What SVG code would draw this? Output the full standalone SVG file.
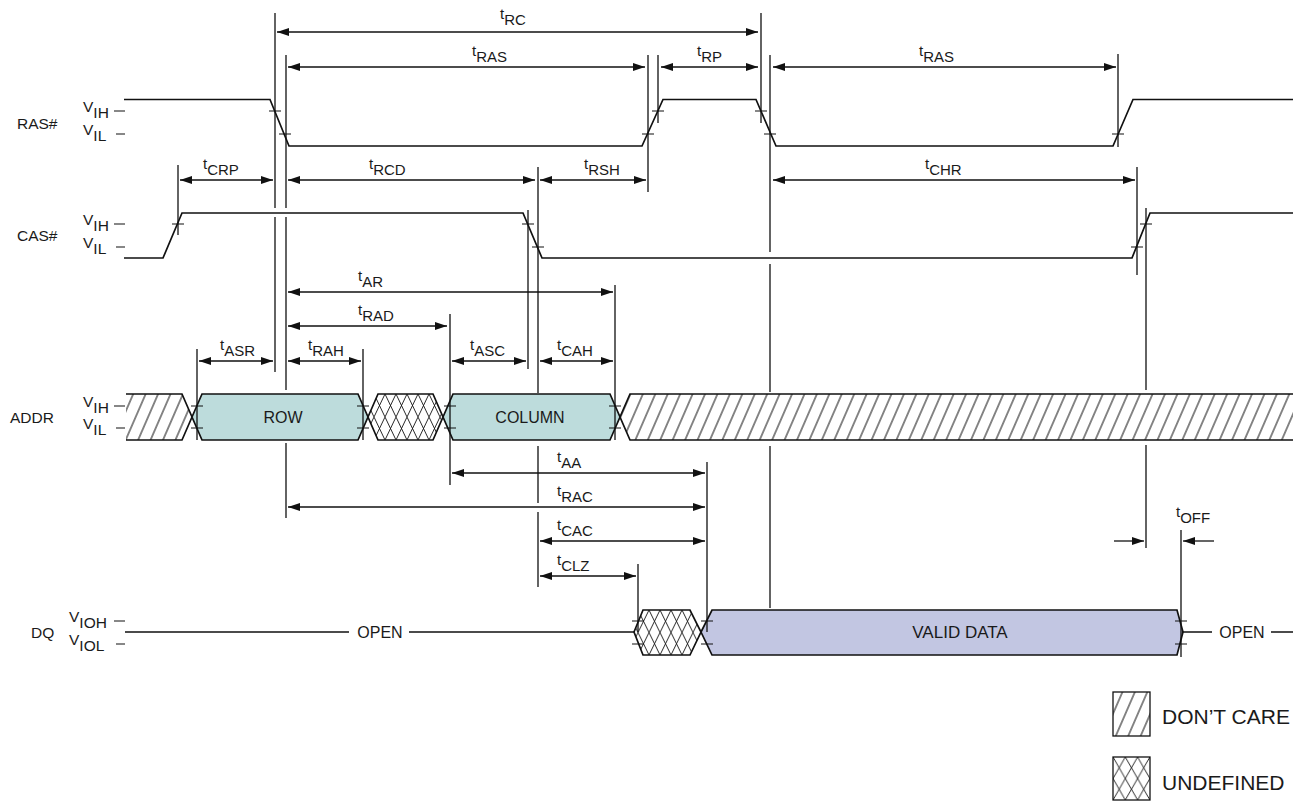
<svg xmlns="http://www.w3.org/2000/svg" width="1299" height="801" viewBox="0 0 1299 801">
<defs>
<style>
text { font-family: "Liberation Sans", Arial, sans-serif; fill: #1a1a1a; }
.sig { fill: none; stroke: #111; stroke-width: 1.7; stroke-linejoin: miter; }
.ref { stroke: #111; stroke-width: 1.3; fill: none; }
.tk { stroke: #111; stroke-width: 1.2; }
.dim { stroke: #111; stroke-width: 1.3; marker-start: url(#ah); marker-end: url(#ah); }
.one { stroke: #111; stroke-width: 1.3; marker-end: url(#ah); }
.lbl { font-size: 15px; }
.nm { font-size: 15.5px; }
.bx { font-size: 16px; text-anchor: middle; }
.lg { font-size: 21px; }
</style>
<marker id="ah" viewBox="0 0 12 8" refX="12" refY="4" markerWidth="12" markerHeight="8" markerUnits="userSpaceOnUse" orient="auto-start-reverse">
<path d="M0,0 L12,4 L0,8 z" fill="#111"/>
</marker>
<pattern id="dc" patternUnits="userSpaceOnUse" width="11.4" height="20" patternTransform="rotate(23.5)">
<line x1="5.7" y1="-2" x2="5.7" y2="22" stroke="#111" stroke-width="1"/>
</pattern>
<pattern id="ud" patternUnits="userSpaceOnUse" x="0" y="394" width="11" height="23">
<path d="M0,0 L11,23 M11,0 L0,23" stroke="#111" stroke-width="0.9" fill="none"/>
</pattern>
<pattern id="ud2" patternUnits="userSpaceOnUse" x="0" y="610" width="11" height="22.5">
<path d="M0,0 L11,22.5 M11,0 L0,22.5" stroke="#111" stroke-width="0.9" fill="none"/>
</pattern>
<pattern id="ud3" patternUnits="userSpaceOnUse" x="1113" y="757" width="12.3" height="21.5">
<path d="M0,0 L12.3,21.5 M12.3,0 L0,21.5" stroke="#111" stroke-width="0.9" fill="none"/>
</pattern>
</defs>

<g id="signal-names">
<text class="nm" x="17" y="129">RAS#</text>
<text class="nm" x="17" y="241">CAS#</text>
<text class="nm" x="10" y="423">ADDR</text>
<text class="nm" x="31" y="638">DQ</text>
</g>

<g id="levels">
<text class="nm" x="83" y="112">V<tspan dy="6">IH</tspan></text>
<text class="nm" x="83" y="135">V<tspan dy="6">IL</tspan></text>
<text class="nm" x="83" y="225">V<tspan dy="6">IH</tspan></text>
<text class="nm" x="83" y="248">V<tspan dy="6">IL</tspan></text>
<text class="nm" x="83" y="407">V<tspan dy="6">IH</tspan></text>
<text class="nm" x="83" y="429">V<tspan dy="6">IL</tspan></text>
<text class="nm" x="69" y="622">V<tspan dy="6">IOH</tspan></text>
<text class="nm" x="69" y="645">V<tspan dy="6">IOL</tspan></text>
<path class="tk" d="M114,111 H125 M116,134 H125 M114,224 H125 M116,247 H125 M114,406 H125 M116,428 H125 M114,621 H125 M116,644 H125"/>
</g>

<g id="addr-bus">
<path d="M126,394 H182 L192,417 L182,440 H126 Z" fill="url(#dc)"/>
<path class="sig" d="M126,394 H182 L192,417 L182,440 H126"/>
<path class="sig" d="M192,417 L202,394 H358 L368,417 L358,440 H202 Z" style="fill:#bddcdc"/>
<path d="M368,417 L378,394 H433 L443,417 L433,440 H378 Z" fill="url(#ud)" stroke="#111" stroke-width="1.7"/>
<path class="sig" d="M443,417 L453,394 H610 L620,417 L610,440 H453 Z" style="fill:#bddcdc"/>
<path d="M620,417 L630,394 H1293 V440 H630 Z" fill="url(#dc)"/>
<path class="sig" d="M1293,394 H630 L620,417 L630,440 H1293"/>
<text class="bx" x="283" y="423">ROW</text>
<text class="bx" x="530" y="423">COLUMN</text>
</g>

<g id="dq-bus">
<path class="sig" d="M125,632 H349 M409,632 H634"/>
<text class="bx" x="380" y="638">OPEN</text>
<path d="M634,632 L643,610 H690 L701,632 L690,655 H643 Z" fill="url(#ud2)" stroke="#111" stroke-width="1.7"/>
<path class="sig" d="M701,632 L712,610 H1177 L1183,632 L1177,655 H712 Z" style="fill:#c2c6e2"/>
<text class="bx" x="960" y="638" style="font-size:17px">VALID DATA</text>
<path class="sig" d="M1183,632 H1212 M1271,632 H1293"/>
<text class="bx" x="1242" y="638">OPEN</text>
</g>

<g id="ras">
<path class="sig" d="M124,99.5 H270 L289,146 H642 L663,99.5 H756 L776,146 H1113 L1133,99.5 H1293"/>
<path class="tk" d="M269,111 H281 M279,134 H291 M642,134 H654 M652,111 H664 M755,111 H767 M764,134 H776 M1112,134 H1124"/>
</g>

<g id="cas">
<path class="sig" d="M124,258 H163 L182,213 H523 L542,258 H1132 L1150,213 H1293"/>
<path class="tk" d="M172,224 H184 M522,224 H534 M532,247 H544 M1131,247 H1143 M1140,224 H1152"/>
</g>

<g id="bus-ticks">
<path class="tk" d="M191,406 H203 M191,428 H203 M357,406 H369 M357,428 H369 M444,406 H456 M444,428 H456 M609,406 H621 M609,428 H621"/>
<path class="tk" d="M632,621 H644 M632,644 H644 M701,621 H713 M701,644 H713 M1175,621 H1187 M1175,644 H1187"/>
</g>

<g id="reference-lines">
<path class="ref" d="M275,13 V208 M275,217 V372"/>
<path class="ref" d="M286,55 V208 M286,217 V390 M286,443 V518"/>
<path class="ref" d="M178,165 V235"/>
<path class="ref" d="M197,349 V440 M363,349 V440 M450,314 V485 M615,285 V440"/>
<path class="ref" d="M528,210 V369"/>
<path class="ref" d="M538,167 V393 M538,446 V503 M538,512 V587"/>
<path class="ref" d="M648,55 V192 M658,55 V123 M761,13 V123"/>
<path class="ref" d="M770,55 V252 M770,264 V392 M770,446 V608"/>
<path class="ref" d="M1118,54 V147 M1137,167 V275"/>
<path class="ref" d="M1146,208 V390 M1146,445 V548"/>
<path class="ref" d="M638,564 V632 M707,462 V632 M1181,530 V657"/>
</g>

<g id="connectors">
<line class="dim" x1="277" y1="32" x2="758" y2="32"/>
<line class="dim" x1="288" y1="67" x2="645" y2="67"/>
<line class="dim" x1="661" y1="67" x2="758" y2="67"/>
<line class="dim" x1="773" y1="67" x2="1116" y2="67"/>
<line class="dim" x1="180" y1="180" x2="273" y2="180"/>
<line class="dim" x1="288" y1="180" x2="535" y2="180"/>
<line class="dim" x1="540" y1="180" x2="646" y2="180"/>
<line class="dim" x1="773" y1="180" x2="1135" y2="180"/>
<line class="dim" x1="288" y1="292" x2="613" y2="292"/>
<line class="dim" x1="288" y1="326" x2="447" y2="326"/>
<line class="dim" x1="199" y1="361" x2="273" y2="361"/>
<line class="dim" x1="288" y1="361" x2="361" y2="361"/>
<line class="dim" x1="452" y1="361" x2="526" y2="361"/>
<line class="dim" x1="540" y1="361" x2="613" y2="361"/>
<line class="dim" x1="452" y1="473" x2="705" y2="473"/>
<line class="dim" x1="288" y1="507" x2="705" y2="507"/>
<line class="dim" x1="540" y1="541" x2="705" y2="541"/>
<line class="dim" x1="540" y1="576" x2="636" y2="576"/>
<line class="one" x1="1114" y1="541" x2="1144" y2="541"/>
<line class="one" x1="1214" y1="541" x2="1183" y2="541"/>
</g>

<g id="timing-labels">
<text class="lbl" x="500" y="19">t<tspan dy="6">RC</tspan></text>
<text class="lbl" x="472" y="56">t<tspan dy="6">RAS</tspan></text>
<text class="lbl" x="697" y="56">t<tspan dy="6">RP</tspan></text>
<text class="lbl" x="919" y="56">t<tspan dy="6">RAS</tspan></text>
<text class="lbl" x="203" y="169">t<tspan dy="6">CRP</tspan></text>
<text class="lbl" x="369" y="169">t<tspan dy="6">RCD</tspan></text>
<text class="lbl" x="584" y="169">t<tspan dy="6">RSH</tspan></text>
<text class="lbl" x="925" y="169">t<tspan dy="6">CHR</tspan></text>
<text class="lbl" x="358" y="281">t<tspan dy="6">AR</tspan></text>
<text class="lbl" x="358" y="315">t<tspan dy="6">RAD</tspan></text>
<text class="lbl" x="220" y="350">t<tspan dy="6">ASR</tspan></text>
<text class="lbl" x="308" y="350">t<tspan dy="6">RAH</tspan></text>
<text class="lbl" x="470" y="350">t<tspan dy="6">ASC</tspan></text>
<text class="lbl" x="557" y="350">t<tspan dy="6">CAH</tspan></text>
<text class="lbl" x="557" y="462">t<tspan dy="6">AA</tspan></text>
<text class="lbl" x="557" y="496">t<tspan dy="6">RAC</tspan></text>
<text class="lbl" x="557" y="530">t<tspan dy="6">CAC</tspan></text>
<text class="lbl" x="557" y="565">t<tspan dy="6">CLZ</tspan></text>
<text class="lbl" x="1176" y="517">t<tspan dy="6">OFF</tspan></text>
</g>

<g id="legend">
<rect x="1113" y="692" width="37" height="44" fill="url(#dc)" stroke="#111" stroke-width="1.3"/>
<text class="lg" x="1162" y="724">DON’T CARE</text>
<rect x="1113" y="757" width="37" height="43" fill="url(#ud3)" stroke="#111" stroke-width="1.3"/>
<text class="lg" x="1162" y="790">UNDEFINED</text>
</g>
</svg>
